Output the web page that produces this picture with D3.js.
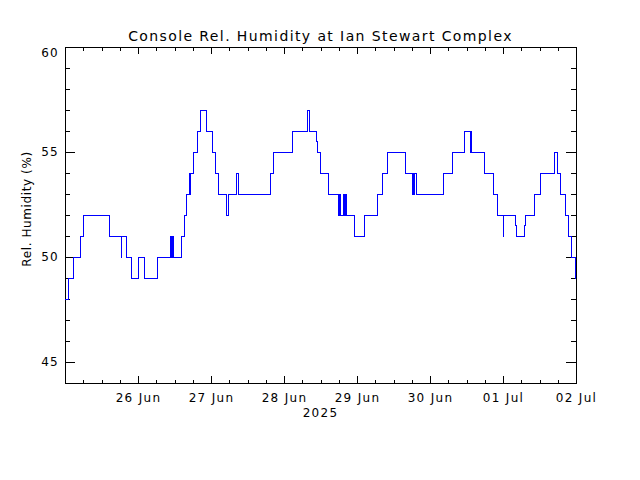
<!doctype html>
<html>
<head>
<meta charset="utf-8">
<title>Console Rel. Humidity</title>
<script src="https://d3js.org/d3.v7.min.js"></script>
<style>
  body { margin: 0; background: #fff; }
  text { font-family: "DejaVu Sans", sans-serif; fill: #000; }
</style>
</head>
<body>
<div id="chart"></div>
<script>
// hours after 25 Jun 2025 00:00 at which the reading changes, and the new reading (%)
var stepHours = [0, 1.0, 2.7, 5.2, 6.0, 14.6, 18.5, 18.7, 20.3, 21.8, 24.1, 26.1, 30.3,
  34.6, 34.9, 35.1, 35.3, 35.5, 35.7, 38.4, 39.2, 40.0, 40.9, 41.0, 41.2, 42.2, 43.5, 44.5,
  46.5, 48.4, 49.4, 50.4, 53.0, 53.7, 56.3, 57.0, 67.5, 68.5, 74.7, 79.7, 80.4, 82.6, 83.0,
  83.9, 86.6, 89.9, 90.1, 90.3, 90.5, 90.7, 91.4, 91.6, 91.8, 92.1, 92.3, 92.6, 95.1, 98.4,
  102.7, 104.3, 106.0, 111.9, 114.2, 114.4, 114.6, 114.8, 115.5, 124.4, 127.3, 131.3, 133.3,
  133.4, 133.6, 137.9, 140.8, 142.1, 144.1, 144.2, 148.2, 148.5, 151.0, 151.3, 154.3, 156.3,
  160.9, 161.8, 162.8, 164.4, 165.5, 166.5, 167.8, 168.0];
var humidity = [48, 49, 50, 51, 52, 51, 50, 51, 50, 49, 50, 49, 50,
  51, 50, 51, 50, 51, 50, 51, 52, 53, 54, 53, 54, 55, 56, 57,
  56, 55, 54, 53, 52, 53, 54, 53, 54, 55, 56, 57, 56, 55.5, 55,
  54, 53, 52, 53, 52, 53, 52, 53, 52, 53, 52, 53, 52, 51, 52,
  53, 54, 55, 54, 53, 54, 53, 54, 53, 54, 55, 56, 55,
  56, 55, 54, 53, 52, 51, 52, 51.5, 51, 51.5, 52, 53, 54,
  55, 54, 53, 52, 51, 50, 49, 49];

var yMajor = [45, 50, 55, 60];
var yMinor = d3.range(44, 61, 1);
var xTickLabels = ["26 Jun", "27 Jun", "28 Jun", "29 Jun", "30 Jun", "01 Jul", "02 Jul"];
var yearLabel = "2025";

var W = 640, H = 480;
var pLeft = 65, pRight = 576, pTop = 47, pBottom = 383;

var t0 = new Date(Date.UTC(2025, 5, 25));
var t1 = new Date(Date.UTC(2025, 6, 2));

var svg = d3.select("#chart").append("svg")
    .attr("width", W).attr("height", H);

var x = d3.scaleUtc().domain([t0, t1]).range([pLeft, pRight]);
var y = d3.scaleLinear().domain([44, 60]).range([pBottom, pTop]);

var days = d3.utcDay.range(d3.utcDay.offset(t0, 1), d3.utcDay.offset(t1, 1));
var sixHours = d3.utcHour.every(6).range(t0, d3.utcHour.offset(t1, 1));

function axisGroup(axis, tx, ty) {
  var g = svg.append("g")
      .attr("transform", "translate(" + tx + "," + ty + ")")
      .call(axis);
  g.select(".domain").remove();
  g.selectAll("line").attr("stroke", "#000").attr("shape-rendering", "crispEdges");
  return g;
}

// x axes (bottom with labels, top mirrored)
var xb = axisGroup(d3.axisBottom(x).tickValues(days).tickSize(-7).tickPadding(10)
    .tickFormat(function (d, i) { return xTickLabels[i]; }), 0, pBottom);
xb.selectAll("text").attr("font-size", 12).style("letter-spacing", "1.3px")
    .attr("font-family", "DejaVu Sans");
axisGroup(d3.axisBottom(x).tickValues(sixHours).tickSize(-3.5).tickFormat(""), 0, pBottom);
axisGroup(d3.axisTop(x).tickValues(days).tickSize(-7).tickFormat(""), 0, pTop);
axisGroup(d3.axisTop(x).tickValues(sixHours).tickSize(-3.5).tickFormat(""), 0, pTop);

// y axes (left with labels, right mirrored)
var yl = axisGroup(d3.axisLeft(y).tickValues(yMajor).tickSize(-10).tickPadding(6), pLeft, 0);
yl.selectAll("text").attr("font-size", 12).style("letter-spacing", "1.3px")
    .attr("font-family", "DejaVu Sans")
    .attr("y", function (d) { return Math.max(y(d), pTop + 6) - y(d); });
axisGroup(d3.axisLeft(y).tickValues(yMinor).tickSize(-5).tickFormat(""), pLeft, 0);
axisGroup(d3.axisRight(y).tickValues(yMajor).tickSize(-10).tickFormat(""), pRight, 0);
axisGroup(d3.axisRight(y).tickValues(yMinor).tickSize(-5).tickFormat(""), pRight, 0);

// frame
svg.append("rect")
    .attr("x", pLeft).attr("y", pTop)
    .attr("width", pRight - pLeft).attr("height", pBottom - pTop)
    .attr("fill", "none").attr("stroke", "#000")
    .attr("shape-rendering", "crispEdges");

// data line
var pts = stepHours.map(function (h, i) {
  return [d3.utcMinute.offset(t0, Math.round(h * 60)), humidity[i]];
});
var line = d3.line()
    .x(function (d) { return x(d[0]); })
    .y(function (d) { return y(d[1]); })
    .curve(d3.curveStepAfter);
svg.append("path")
    .datum(pts)
    .attr("d", line)
    .attr("fill", "none")
    .attr("stroke", "#0000ff")
    .attr("stroke-width", 1)
    .attr("shape-rendering", "crispEdges");

// titles
svg.append("text")
    .attr("x", (pLeft + pRight) / 2).attr("y", 41)
    .attr("text-anchor", "middle")
    .attr("font-size", 14).style("letter-spacing", "1.4px")
    .text("Console Rel. Humidity at Ian Stewart Complex");

svg.append("text")
    .attr("x", (pLeft + pRight) / 2).attr("y", 417)
    .attr("text-anchor", "middle")
    .attr("font-size", 12).style("letter-spacing", "1.3px")
    .text(yearLabel);

svg.append("text")
    .attr("transform", "translate(31,209) rotate(-90)")
    .attr("text-anchor", "middle")
    .attr("font-size", 12).style("letter-spacing", "0.6px")
    .text("Rel. Humidity (%)");
</script>
</body>
</html>
